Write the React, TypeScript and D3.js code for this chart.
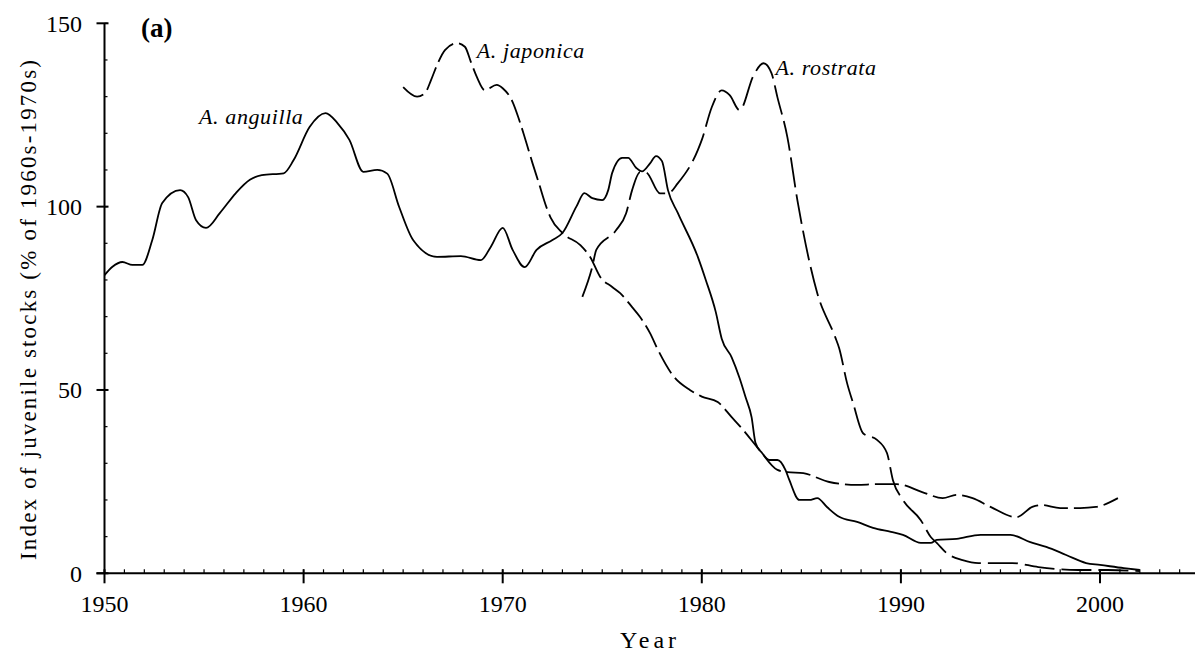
import React from "react";
import * as d3 from "d3";

const W = 1195;
const H = 653;

// [year, index %]
const anguilla: [number, number][] = [
  [1950.0, 81.3], [1950.4, 83.6], [1950.9, 84.9], [1951.4, 84.1], [1951.9, 84.1],
  [1952.4, 90.9], [1952.9, 101], [1953.8, 104.5], [1954.2, 102.6], [1954.6, 96.3],
  [1955.1, 94.2], [1955.8, 98.3], [1956.6, 103.7], [1957.3, 107.3], [1957.9, 108.6],
  [1959.0, 109.1], [1959.5, 112.7], [1960.3, 121.7], [1961.1, 125.5], [1961.7, 122.8],
  [1962.3, 118.2], [1963.0, 109.5], [1963.7, 110], [1964.2, 109], [1964.8, 99.9],
  [1965.5, 90.9], [1966.7, 86.3], [1967.9, 86.5], [1968.9, 85.4], [1969.4, 89],
  [1970.0, 94.2], [1970.5, 88.2], [1971.1, 83.5], [1971.7, 88.2], [1972.5, 90.9],
  [1973.0, 92.8], [1973.7, 100], [1974.1, 103.7], [1974.5, 102.3], [1975.0, 101.8],
  [1975.3, 104.5], [1975.5, 109.2], [1976.0, 113.3], [1976.3, 113.3], [1976.7, 110.6],
  [1977.0, 109.6], [1977.4, 111.8], [1977.7, 113.8], [1978.0, 112.4], [1978.3, 104.5],
  [1978.8, 98.2], [1979.8, 86.3], [1980.2, 80], [1980.7, 71.3], [1981.0, 64],
  [1981.5, 58.9], [1981.9, 53.2], [1982.2, 48], [1982.5, 42.6], [1982.7, 35.5],
  [1983.0, 33], [1983.4, 30.9], [1983.8, 30.9], [1984.2, 28.2], [1984.4, 25.4],
  [1984.9, 20], [1985.4, 20], [1985.8, 20.5], [1986.3, 18], [1986.9, 15.4],
  [1987.8, 14], [1988.6, 12.4], [1989.5, 11.3], [1990.1, 10.5], [1991.0, 8.3],
  [1991.5, 8.3], [1991.8, 9.1], [1992.8, 9.4], [1994.0, 10.5], [1995.5, 10.5],
  [1996.5, 8.5], [1997.3, 7.2], [1998.3, 5], [1999.3, 2.8], [2000.0, 2.3],
  [2001.2, 1.4], [2002.0, 0.9],
];

const japonica: [number, number][] = [
  [1965.0, 132.6], [1965.7, 130], [1966.1, 131], [1966.4, 134.5], [1966.7, 138.6],
  [1967.1, 142.7], [1967.7, 144.6], [1968.1, 143.6], [1968.4, 139.5], [1968.7, 135.4],
  [1969.1, 131.8], [1969.7, 133.2], [1970.0, 132.3], [1970.5, 128.5], [1970.8, 124.1],
  [1971.1, 119], [1971.5, 111.8], [1971.8, 106.7], [1972.2, 99.8], [1972.4, 97.1],
  [1973.0, 92.8], [1973.9, 89.5], [1974.4, 86.2], [1974.9, 80.8], [1975.5, 78.1],
  [1975.9, 76.4], [1976.5, 72.6], [1976.9, 69.9], [1977.4, 65.5], [1977.8, 60.9],
  [1978.6, 53.6], [1979.4, 50], [1980.0, 48.2], [1980.8, 46.7], [1981.5, 42.6],
  [1982.0, 39.6], [1982.9, 33.6], [1983.8, 28.2], [1984.3, 27.6], [1985.1, 27.3],
  [1986.4, 24.9], [1987.8, 24.1], [1988.8, 24.3], [1989.8, 24.3], [1991.1, 22.1],
  [1992.1, 20.5], [1992.8, 21.4], [1993.6, 20.5], [1994.5, 18.1], [1995.8, 15.3],
  [1996.6, 18.1], [1997.1, 18.6], [1998.0, 17.8], [1999.0, 17.8], [1999.8, 18.1],
  [2000.9, 20.5],
];

const rostrata: [number, number][] = [
  [1974.0, 75.4], [1974.5, 83.6], [1974.7, 88.2], [1975.7, 93.6], [1976.2, 98.2],
  [1976.5, 104.5], [1976.9, 109.4], [1977.2, 109.3], [1977.9, 103.6], [1978.3, 103.6],
  [1978.8, 106.4], [1979.8, 115.4], [1980.0, 118.2], [1980.5, 127.1], [1981.0, 131.7],
  [1981.4, 130.4], [1981.9, 126.3], [1982.6, 135.8], [1983.1, 139.1], [1983.5, 136.4],
  [1983.8, 129.8], [1984.3, 118.9], [1984.8, 101.8], [1985.8, 76.4], [1986.7, 64.4],
  [1986.9, 61.4], [1987.3, 51.8], [1987.6, 46.4], [1988.1, 38.2], [1988.8, 36.4],
  [1989.3, 32.8], [1989.6, 25.4], [1990.1, 20], [1991.0, 14.5], [1991.5, 9.9],
  [1991.8, 8.3], [1992.3, 5.5], [1993.1, 3.6], [1993.9, 2.8], [1995.6, 2.8],
  [1996.9, 1.7], [1998.9, 0.9], [2000.4, 0.9], [2002.0, 0.6],
];

const xMajorTicks = [1950, 1960, 1970, 1980, 1990, 2000];
const yMajorTicks = [0, 50, 100, 150];

const seriesLabels = [
  { text: "A. anguilla", year: 1954.75, value: 122.5 },
  { text: "A. japonica", year: 1968.7, value: 140.5 },
  { text: "A. rostrata", year: 1983.7, value: 135.8 },
];

const x = d3.scaleLinear().domain([1950, 2000]).range([104.5, 1100]);
const y = d3.scaleLinear().domain([0, 150]).range([573.3, 23.3]);

const line = d3
  .line<[number, number]>()
  .x((d) => x(d[0]))
  .y((d) => y(d[1]))
  .curve(d3.curveMonotoneX);

const FONT = "'Liberation Serif', 'Times New Roman', serif";

export default function App() {
  const minorX = d3.range(1950, 2008, 1).filter((v) => x(v) <= W);
  const minorY = d3.range(0, 151, 10);
  const axisY = y(0);
  const axisX = x(1950);
  return (
    <svg
      width={W}
      height={H}
      viewBox={`0 0 ${W} ${H}`}
      style={{ position: "absolute", left: 0, top: 0, background: "#fff" }}
      fontFamily={FONT}
    >
      <rect x={0} y={0} width={W} height={H} fill="#fff" />
      {/* axes */}
      <line x1={axisX} x2={axisX} y1={y(150)} y2={axisY} stroke="#000" strokeWidth={2} />
      <line x1={axisX - 8} x2={W} y1={axisY} y2={axisY} stroke="#000" strokeWidth={2} />
      {minorY.map((v) => (
        <line key={"my" + v} x1={axisX} x2={axisX + 3} y1={y(v)} y2={y(v)} stroke="#000" strokeWidth={1.2} />
      ))}
      {yMajorTicks.map((v) => (
        <g key={"Y" + v}>
          <line x1={axisX - 8} x2={axisX + 4} y1={y(v)} y2={y(v)} stroke="#000" strokeWidth={2} />
          <text x={82} y={y(v)} dy="0.35em" textAnchor="end" fontSize={24} fill="#000">
            {v}
          </text>
        </g>
      ))}
      {minorX.map((v) => (
        <line key={"mx" + v} x1={x(v)} x2={x(v)} y1={axisY - 4} y2={axisY} stroke="#000" strokeWidth={1.2} />
      ))}
      {xMajorTicks.map((v) => (
        <g key={"X" + v}>
          <line x1={x(v)} x2={x(v)} y1={axisY - 4} y2={axisY + 10} stroke="#000" strokeWidth={2} />
          <text x={x(v)} y={612} textAnchor="middle" fontSize={24} fill="#000">
            {v}
          </text>
        </g>
      ))}
      <text x={650} y={648} textAnchor="middle" fontSize={24} letterSpacing={4} fill="#000">
        Year
      </text>
      <text
        transform={`translate(36, 310) rotate(-90)`}
        textAnchor="middle"
        fontSize={23}
        textLength={500}
        lengthAdjust="spacing"
        fill="#000"
      >
        Index of juvenile stocks (% of 1960s-1970s)
      </text>
      <text x={141} y={37} fontSize={27} fontWeight="bold" fill="#000">
        (a)
      </text>
      {/* series */}
      <path d={line(anguilla) || ""} fill="none" stroke="#000" strokeWidth={1.8} />
      <path d={line(japonica) || ""} fill="none" stroke="#000" strokeWidth={1.8} strokeDasharray="24 6" />
      <path d={line(rostrata) || ""} fill="none" stroke="#000" strokeWidth={1.8} strokeDasharray="30 7" />
      {seriesLabels.map((l) => (
        <text
          key={l.text}
          x={x(l.year)}
          y={y(l.value)}
          fontSize={22}
          fontStyle="italic"
          letterSpacing={0.6}
          fill="#000"
        >
          {l.text}
        </text>
      ))}
    </svg>
  );
}
